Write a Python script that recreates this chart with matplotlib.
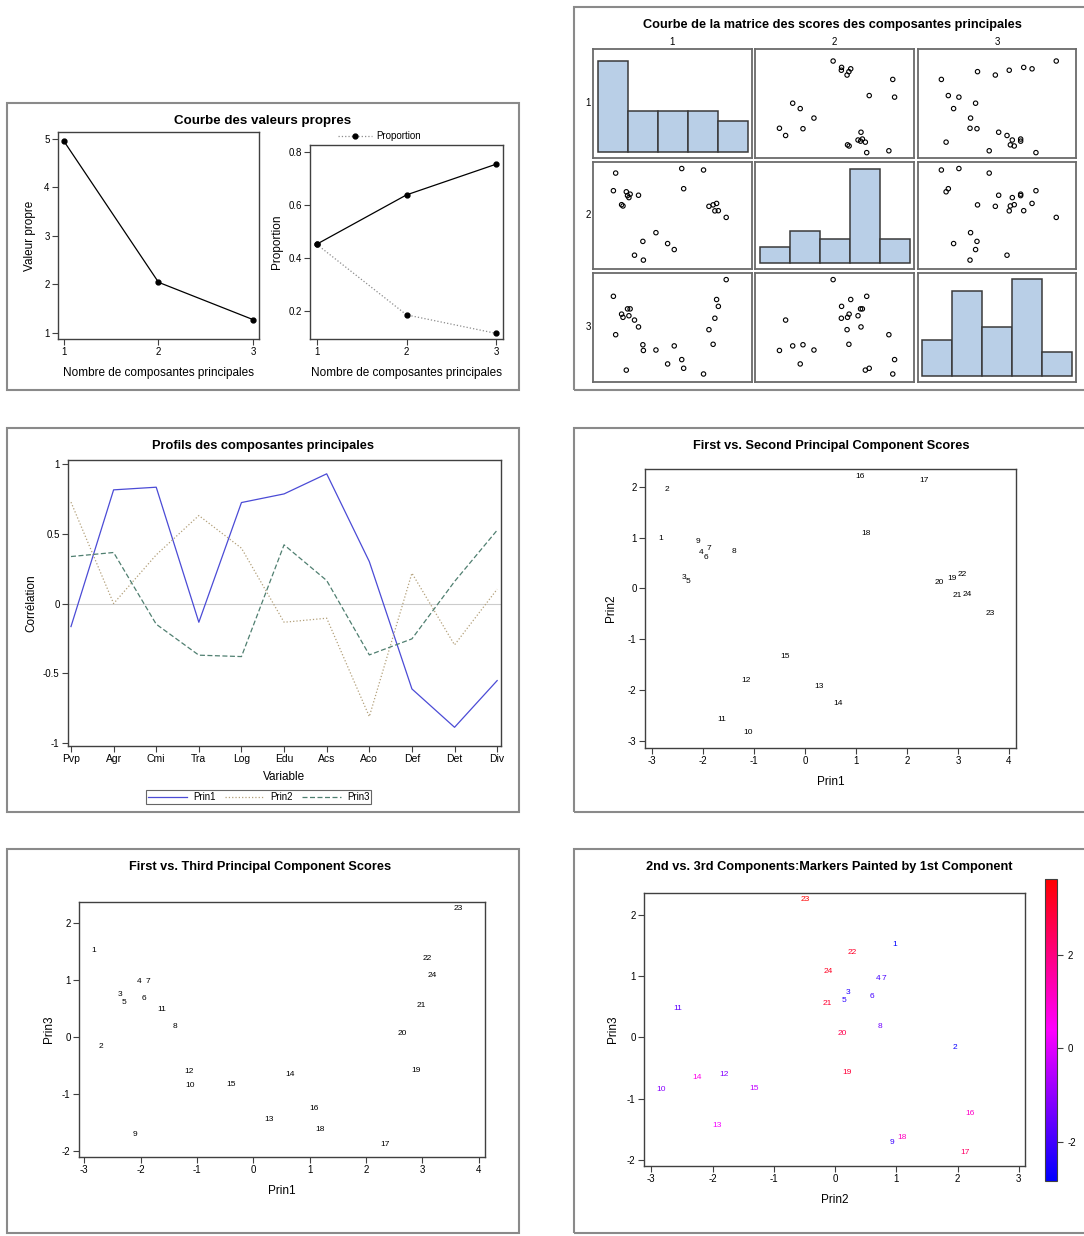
import numpy as np
import matplotlib
matplotlib.use("Agg")
import matplotlib.pyplot as plt
from matplotlib.colors import LinearSegmentedColormap, Normalize
from matplotlib.cm import ScalarMappable
from matplotlib.patches import Rectangle
from matplotlib.lines import Line2D

plt.rcParams['font.family'] = ['Liberation Sans', 'DejaVu Sans']
plt.rcParams['axes.unicode_minus'] = False

W, H = 1084, 1236

# valeurs propres
composantes = [1, 2, 3]
valeurs_propres = [4.95, 2.04, 1.27]
proportion = [0.452, 0.186, 0.116]
cumulee = [0.452, 0.638, 0.754]

# profils des composantes
variables = ["Pvp", "Agr", "Cmi", "Tra", "Log", "Edu", "Acs", "Aco", "Def", "Det", "Div"]
profil1 = [-0.164, 0.816, 0.835, -0.133, 0.725, 0.787, 0.931, 0.302, -0.611, -0.886, -0.551]
profil2 = [0.728, 0.001, 0.350, 0.632, 0.398, -0.133, -0.104, -0.809, 0.219, -0.295, 0.104]
profil3 = [0.338, 0.367, -0.147, -0.369, -0.379, 0.422, 0.166, -0.367, -0.252, 0.159, 0.527]

# scores des observations
obs = list(range(1, 25))
prin1 = [-2.84, -2.71, -2.37, -2.03, -2.29, -1.95, -1.88, -1.40, -2.10, -1.12, -1.63, -1.15,
         0.27, 0.65, -0.40, 1.08, 2.33, 1.19, 2.88, 2.64, 2.98, 3.08, 3.63, 3.18]
prin2 = [0.98, 1.95, 0.21, 0.71, 0.14, 0.60, 0.79, 0.73, 0.92, -2.84, -2.57, -1.81,
         -1.93, -2.26, -1.33, 2.20, 2.12, 1.09, 0.20, 0.12, -0.13, 0.28, -0.49, -0.12]
prin3 = [1.52, -0.16, 0.74, 0.97, 0.60, 0.67, 0.97, 0.18, -1.71, -0.85, 0.48, -0.60,
         -1.44, -0.65, -0.83, -1.25, -1.88, -1.63, -0.58, 0.06, 0.56, 1.38, 2.25, 1.08]

# bornes des classes des histogrammes
classes = [[-3, -1.5, 0, 1.5, 3, 4.5],
           [-3.6, -2.4, -1.2, 0, 1.2, 2.4],
           [-2.5, -1.5, -0.5, 0.5, 1.5, 2.5]]


def box(x0, y0, x1, y1):
	return [x0 / W, 1 - y1 / H, (x1 - x0) / W, (y1 - y0) / H]


def style(ax):
	for s in ax.spines.values():
		s.set_color('#404040')
		s.set_linewidth(1.0)
	ax.tick_params(direction='out', length=4, width=0.8, color='#404040', labelsize=7,
	               top=False, right=False, pad=2)


def title(x, y, txt, size=9.2):
	fig.text(x / W, 1 - y / H, txt, ha='center', va='center', fontsize=size, fontweight='bold')


def frame(x0, y0, x1, y1):
	fig.add_artist(Rectangle((x0 / W, 1 - y1 / H), (x1 - x0) / W, (y1 - y0) / H,
	                         transform=fig.transFigure, fill=False, edgecolor='#8a8a8a', lw=1.5))


fig = plt.figure(figsize=(W / 100, H / 100), dpi=100)

frame(7, 103, 519, 390)
frame(574, 7, 1100, 390)
frame(7, 428, 519, 812)
frame(574, 428, 1100, 812)
frame(7, 849, 519, 1233)
frame(574, 849, 1100, 1233)

# ---- courbe des valeurs propres
title(263, 121, "Courbe des valeurs propres", 9.6)
ax = fig.add_axes(box(58, 132, 259, 339))
style(ax)
ax.plot(composantes, valeurs_propres, color='black', lw=0.9, marker='o', ms=3.5)
ax.set_xlim(0.937, 3.063)
ax.set_ylim(0.87, 5.14)
ax.set_xticks(composantes)
ax.set_yticks([1, 2, 3, 4, 5])
ax.set_ylabel("Valeur propre", fontsize=8.5, labelpad=6)
ax.set_xlabel("Nombre de composantes principales", fontsize=8.5, labelpad=7)

ax = fig.add_axes(box(310, 145, 503, 339))
style(ax)
ax.plot(composantes, cumulee, color='black', lw=0.9, marker='o', ms=3.5)
ax.plot(composantes, proportion, color='#8c8c8c', lw=0.9, ls=':', marker='o', ms=3.5,
        mfc='black', mec='black')
ax.set_xlim(0.926, 3.074)
ax.set_ylim(0.095, 0.826)
ax.set_xticks(composantes)
ax.set_yticks([0.2, 0.4, 0.6, 0.8])
ax.set_ylabel("Proportion", fontsize=8.5)
ax.set_xlabel("Nombre de composantes principales", fontsize=8.5, labelpad=7)
h = Line2D([], [], color='#8c8c8c', lw=0.9, ls=':', marker='o', ms=3.5, mfc='black', mec='black')
ax.legend([h], ["Proportion"], loc='lower center', bbox_to_anchor=(0.36, 0.99), frameon=False,
          fontsize=7, handlelength=3.5, borderpad=0.1, handletextpad=0.5)

# ---- matrice des scores
title(832, 25, "Courbe de la matrice des scores des composantes principales")
scores = [prin1, prin2, prin3]
cols = [(593, 752), (755, 914), (918, 1076)]
rows = [(49, 158), (162, 269), (273, 382)]
xlims = [(-4.01, 5.11), (-3.91, 3.05), (-2.72, 2.96)]
ylims = [(-3.22, 4.48), (-3.33, 2.56), (-2.23, 2.54)]
hist_top = [10.16, 12.84, 8.5]
for i in range(3):
	fig.text((cols[i][0] + cols[i][1]) / 2 / W, 1 - 42 / H, str(i + 1), ha='center', va='center', fontsize=7)
	fig.text(588 / W, 1 - (rows[i][0] + rows[i][1]) / 2 / H, str(i + 1), ha='center', va='center', fontsize=7)
	for j in range(3):
		ax = fig.add_axes(box(cols[j][0], rows[i][0], cols[j][1], rows[i][1]))
		for s in ax.spines.values():
			s.set_color('#6a6a6a')
			s.set_linewidth(1.3)
		ax.set_xticks([])
		ax.set_yticks([])
		if i == j:
			e = classes[i]
			pad = 0.03 * (e[-1] - e[0])
			ax.hist(scores[i], bins=e, color='#b9cfe7', edgecolor='#3a3a3a', lw=1.1)
			ax.set_xlim(e[0] - pad, e[-1] + pad)
			ax.set_ylim(-0.06 * hist_top[i], hist_top[i])
		else:
			ax.scatter(scores[j], scores[i], s=10, facecolors='none', edgecolors='black', linewidths=0.8)
			ax.set_xlim(*xlims[j])
			ax.set_ylim(*ylims[i])

# ---- profils
title(263, 446, "Profils des composantes principales")
ax = fig.add_axes(box(68, 460, 501, 746))
style(ax)
x = np.arange(len(variables))
ax.axhline(0, color='#cccccc', lw=0.8)
ax.plot(x, profil1, color='#4b4bd6', lw=0.9, label="Prin1")
ax.plot(x, profil2, color='#b3a07a', lw=0.9, ls=':', label="Prin2")
ax.plot(x, profil3, color='#4f7f70', lw=0.9, ls='--', dashes=(4, 2), label="Prin3")
ax.set_xlim(-0.07, 10.09)
ax.set_ylim(-1.02, 1.03)
ax.set_xticks(x)
ax.set_xticklabels(variables)
ax.set_yticks([-1, -0.5, 0, 0.5, 1])
ax.set_yticklabels(["-1", "-0.5", "0", "0.5", "1"])
ax.tick_params(axis='x', labelsize=7.5)
ax.set_xlabel("Variable", fontsize=8.5, labelpad=5)
ax.set_ylabel("Corrélation", fontsize=8.5)
leg = ax.legend(loc='center', bbox_to_anchor=(0.441, -0.178), ncol=3, fontsize=7, frameon=True,
                fancybox=False, edgecolor='#404040', handlelength=4, borderpad=0.2,
                columnspacing=1.0, handletextpad=0.6)
leg.get_frame().set_linewidth(0.8)

# ---- Prin1 vs Prin2
title(831, 446, "First vs. Second Principal Component Scores")
ax = fig.add_axes(box(645, 469, 1016, 748))
style(ax)
for i, o in enumerate(obs):
	ax.text(prin1[i], prin2[i], str(o), ha='center', va='center', fontsize=6)
ax.set_xlim(-3.14, 4.14)
ax.set_ylim(-3.14, 2.35)
ax.set_xticks(range(-3, 5))
ax.set_yticks(range(-3, 3))
ax.set_xlabel("Prin1", fontsize=8.5, labelpad=7)
ax.set_ylabel("Prin2", fontsize=8.5, labelpad=8)

# ---- Prin1 vs Prin3
title(260, 867, "First vs. Third Principal Component Scores")
ax = fig.add_axes(box(79, 902, 485, 1157))
style(ax)
for i, o in enumerate(obs):
	ax.text(prin1[i], prin3[i], str(o), ha='center', va='center', fontsize=6)
ax.set_xlim(-3.094, 4.11)
ax.set_ylim(-2.105, 2.37)
ax.set_xticks(range(-3, 5))
ax.set_yticks(range(-2, 3))
ax.set_xlabel("Prin1", fontsize=8.5, labelpad=7)
ax.set_ylabel("Prin3", fontsize=8.5, labelpad=5)

# ---- Prin2 vs Prin3, couleur selon Prin1
title(829, 867, "2nd vs. 3rd Components:Markers Painted by 1st Component")
cmap = LinearSegmentedColormap.from_list("bmr", ["#0000ff", "#ff00ff", "#ff0000"])
norm = Normalize(min(prin1), max(prin1))
ax = fig.add_axes(box(644, 893, 1025, 1166))
style(ax)
for i, o in enumerate(obs):
	ax.text(prin2[i], prin3[i], str(o), ha='center', va='center', fontsize=6, color=cmap(norm(prin1[i])))
ax.set_xlim(-3.12, 3.10)
ax.set_ylim(-2.10, 2.36)
ax.set_xticks(range(-3, 4))
ax.set_yticks(range(-2, 3))
ax.set_xlabel("Prin2", fontsize=8.5, labelpad=7)
ax.set_ylabel("Prin3", fontsize=8.5, labelpad=6)
cax = fig.add_axes(box(1045, 879, 1057, 1181))
cb = fig.colorbar(ScalarMappable(norm=norm, cmap=cmap), cax=cax, ticks=[-2, 0, 2])
cb.outline.set_edgecolor('#404040')
cb.ax.tick_params(labelsize=7, length=4, width=0.8, color='#404040')

fig.savefig("out.png", dpi=100)
